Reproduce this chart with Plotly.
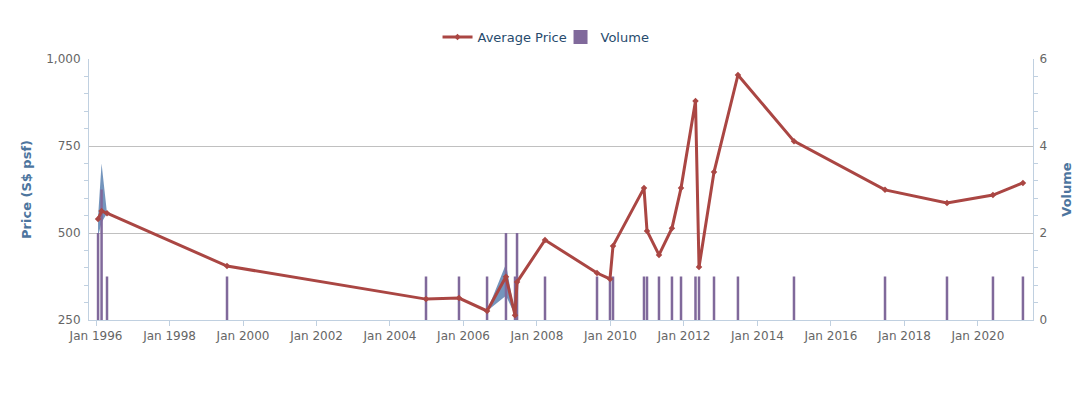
import plotly.graph_objects as go

dates = ["1996-01-21", "1996-02-25", "1996-04-19", "1999-07-26", "2004-12-24",
         "2005-11-17", "2006-08-23", "2007-02-27", "2007-05-28", "2007-06-17",
         "2008-03-21", "2009-08-20", "2009-12-27", "2010-01-26", "2010-11-30",
         "2010-12-30", "2011-04-28", "2011-09-04", "2011-12-03", "2012-04-25",
         "2012-05-30", "2012-10-26", "2013-06-21", "2014-12-30", "2017-06-22",
         "2019-02-28", "2020-05-30", "2021-03-24"]
avg_price = [540, 563, 557, 405, 310, 313, 276, 374, 264, 359, 480, 385, 368, 463,
             629, 506, 437, 514, 629, 879, 402, 675, 954, 764, 624, 586, 609, 644]
price_low = [490, 530, 557, 405, 310, 313, 276, 320, 264, 359, 480, 385, 368, 463,
             629, 506, 437, 514, 629, 879, 402, 675, 954, 764, 624, 586, 609, 644]
price_high = [545, 700, 557, 405, 310, 313, 276, 411, 264, 359, 480, 385, 368, 463,
              629, 506, 437, 514, 629, 879, 402, 675, 954, 764, 624, 586, 609, 644]
volume = [2, 3, 1, 1, 1, 1, 1, 2, 1, 2, 1, 1, 1, 1,
          1, 1, 1, 1, 1, 1, 1, 1, 1, 1, 1, 1, 1, 1]

FONT = "DejaVu Sans"
AXIS_LINE = "#C0D0E0"
TITLE_COL = "#4d759e"
PRICE_COL = "#AA4643"
VOL_COL = "#80699B"

fig = go.Figure()

# price range (min-max) area, on the price axis
fig.add_trace(go.Scatter(x=dates, y=price_low, mode="lines", line=dict(width=0),
                         showlegend=False, hoverinfo="skip", yaxis="y"))
fig.add_trace(go.Scatter(x=dates, y=price_high, mode="lines", line=dict(width=0),
                         fill="tonexty", fillcolor="rgba(69,114,167,0.75)",
                         showlegend=False, hoverinfo="skip", yaxis="y"))

# volume columns
fig.add_trace(go.Bar(x=dates, y=volume, name="Volume", marker=dict(color=VOL_COL, line=dict(width=0)),
                     width=25 * 86400000, yaxis="y2", showlegend=False))

# price line on a hidden overlay axis (drawn on top)
fig.add_trace(go.Scatter(x=dates, y=avg_price, name="Average Price", mode="lines+markers",
                         line=dict(color=PRICE_COL, width=3),
                         marker=dict(symbol="diamond", size=5, color=PRICE_COL),
                         yaxis="y3", legendrank=1))

# legend-only entry for the volume columns (larger square swatch)
fig.add_trace(go.Scatter(x=[None], y=[None], name="Volume", mode="markers",
                         marker=dict(symbol="square", size=14, color=VOL_COL),
                         yaxis="y2", legendrank=2))

fig.update_layout(
    width=1076, height=383,
    margin=dict(l=81, r=51, t=51, b=71, autoexpand=False),
    paper_bgcolor="white", plot_bgcolor="white",
    font=dict(family=FONT, size=12, color="#666666"),
    barmode="overlay",
    showlegend=True,
    legend=dict(orientation="h", x=0.4995, xanchor="center", y=1.084, yanchor="middle",
                font=dict(family=FONT, size=13, color="#274b6d"),
                itemwidth=30, traceorder="normal",
                entrywidth=78, entrywidthmode="pixels"),
    xaxis=dict(type="date", range=["1995-10-23", "2021-07-02"], automargin=False,
               tick0="1996-01-01", dtick="M24", tickformat="%b %Y",
               showgrid=False, showline=True, linecolor=AXIS_LINE, linewidth=1,
               ticks="outside", ticklen=5, tickcolor=AXIS_LINE,
               tickfont=dict(size=12, color="#666666"), zeroline=False),
    yaxis=dict(range=[250, 1000], tick0=250, dtick=250, tickformat=",d", automargin=False,
               showgrid=True, gridcolor="#C0C0C0", gridwidth=1,
               showline=True, linecolor=AXIS_LINE, linewidth=1,
               ticks="", zeroline=False, ticklabelstandoff=5,
               minor=dict(dtick=50, tick0=250, ticks="outside", ticklen=4, tickcolor=AXIS_LINE, showgrid=False),
               tickfont=dict(size=12, color="#666666"),
               title=dict(text="<b>Price (S$ psf)</b>", font=dict(size=13, color=TITLE_COL), standoff=11)),
    yaxis2=dict(range=[0, 6], dtick=2, overlaying="y", side="right", automargin=False,
                showgrid=False, showline=True, linecolor=AXIS_LINE, linewidth=1,
                ticks="", zeroline=False, ticklabelstandoff=3,
                minor=dict(dtick=0.4, tick0=0, ticks="outside", ticklen=4, tickcolor=AXIS_LINE, showgrid=False),
                tickfont=dict(size=12, color="#666666"),
                title=dict(text="<b>Volume</b>", font=dict(size=13, color=TITLE_COL), standoff=15)),
    yaxis3=dict(range=[250, 1000], overlaying="y", visible=False, showgrid=False, zeroline=False,
                automargin=False),
)

fig.write_html("out.html")
